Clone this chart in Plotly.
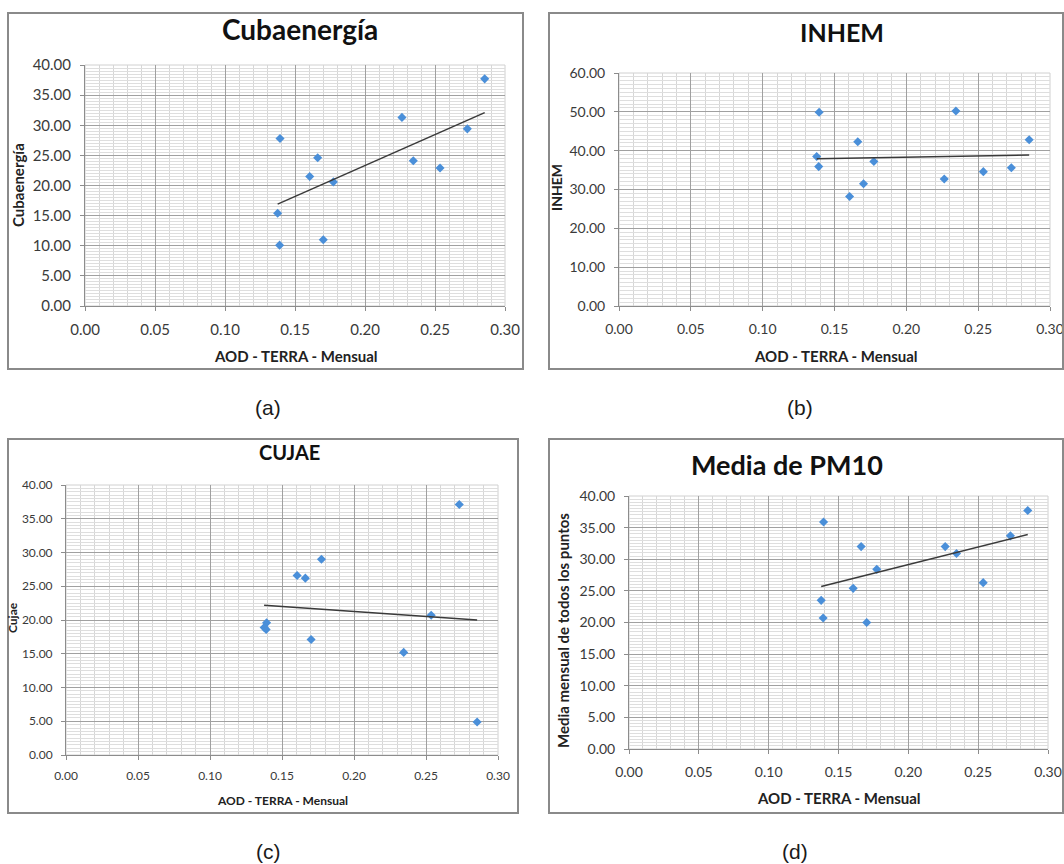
import plotly.graph_objects as go

W, H = 1064, 864

# ---- data ----
aod = [0.1393, 0.1376, 0.1390, 0.1605, 0.1662, 0.1702, 0.1774, 0.2264, 0.2345, 0.2536, 0.2731, 0.2855]
cubaenergia = [27.8, 15.4, 10.1, 21.5, 24.6, 11.0, 20.6, 31.3, 24.1, 22.9, 29.4, 37.7]
inhem = [49.9, 38.5, 35.9, 28.2, 42.3, 31.5, 37.2, 32.7, 50.2, 34.6, 35.6, 42.8]
cujae = [19.6, 18.9, 18.6, 26.6, 26.2, 17.1, 29.0, None, 15.2, 20.7, 37.1, 4.9]
media_pm10 = [35.9, 23.5, 20.7, 25.4, 32.0, 20.0, 28.4, 32.0, 30.9, 26.3, 33.7, 37.7]

trend_x = [0.1376, 0.2855]
trend_cubaenergia = [16.9, 32.1]
trend_inhem = [37.9, 38.9]
trend_cujae = [22.2, 20.0]
trend_media = [25.7, 33.9]

x_ticks = [0.00, 0.05, 0.10, 0.15, 0.20, 0.25, 0.30]
titles = ["Cubaenergía", "INHEM", "CUJAE", "Media de PM10"]
y_titles = ["Cubaenergía", "INHEM", "Cujae", "Media mensual de todos los puntos"]
x_title = "AOD - TERRA - Mensual"
captions = ["(a)", "(b)", "(c)", "(d)"]

# ---- layout helpers (pixel geometry) ----
def px(x):
    return x / W

def py(y):
    return 1 - y / H

panels = [
    dict(y=cubaenergia, ty=trend_cubaenergia, ymax=40, ydt=5, yminor=0.5,
         plot=(85, 505, 65, 306), box=(8, 523, 13, 369),
         title=(300, 29, 28), ytitle=(18, 185, 15), xtitle=(296, 356, 15),
         caption=(268, 407), tickfont=15, family="Lato"),
    dict(y=inhem, ty=trend_inhem, ymax=60, ydt=10, yminor=1,
         plot=(619, 1050, 73, 306), box=(549, 1063, 13, 369),
         title=(842, 32, 25), ytitle=(557, 188, 14), xtitle=(836, 356, 15),
         caption=(800, 407), tickfont=14, family="Lato"),
    dict(y=cujae, ty=trend_cujae, ymax=40, ydt=5, yminor=0.5,
         plot=(66, 498, 485, 755), box=(8, 518, 439, 813),
         title=(289, 452, 20), ytitle=(12, 618, 12), xtitle=(282, 800, 12),
         caption=(268, 851), tickfont=12, family="Liberation Sans Narrow, Lato"),
    dict(y=media_pm10, ty=trend_media, ymax=40, ydt=5, yminor=0.5,
         plot=(629, 1048, 496, 749), box=(549, 1063, 439, 813),
         title=(787, 464, 27), ytitle=(563, 631, 15), xtitle=(839, 798, 15),
         caption=(795, 851), tickfont=14, family="Lato"),
]

fig = go.Figure()
annotations = []
shapes = []
layout_axes = {}

for i, p in enumerate(panels):
    n = i + 1
    xa = "x" if n == 1 else f"x{n}"
    ya = "y" if n == 1 else f"y{n}"
    x0, x1, y0, y1 = p["plot"]

    fig.add_trace(go.Scatter(
        x=aod, y=p["y"], mode="markers", xaxis=xa, yaxis=ya,
        marker=dict(symbol="diamond", size=7, color="#4a8fd9"),
        showlegend=False, hoverinfo="x+y"))
    fig.add_trace(go.Scatter(
        x=trend_x, y=p["ty"], mode="lines", xaxis=xa, yaxis=ya,
        line=dict(color="#3a3a3a", width=1.5),
        showlegend=False, hoverinfo="skip"))

    tick_font = dict(family=p["family"], size=p["tickfont"], color="#3a3a3a")
    layout_axes[f"xaxis{'' if n == 1 else n}"] = dict(
        domain=[px(x0), px(x1)], anchor=ya, range=[0, 0.30], automargin=False,
        tickvals=x_ticks, tickformat=".2f", tickfont=tick_font, ticklabelstandoff=6,
        showgrid=True, gridcolor="#a0a0a0", gridwidth=1,
        minor=dict(dtick=0.01, showgrid=True, gridcolor="#d6d6d6", gridwidth=1),
        showline=True, linecolor="#8c8c8c", linewidth=1, mirror=False,
        ticks="outside", ticklen=4, tickcolor="#8c8c8c",
        zeroline=False, fixedrange=True)
    layout_axes[f"yaxis{'' if n == 1 else n}"] = dict(
        domain=[py(y1), py(y0)], anchor=xa, range=[0, p["ymax"]], automargin=False,
        dtick=p["ydt"], tick0=0, tickformat=".2f", tickfont=tick_font, ticklabelstandoff=6,
        showgrid=True, gridcolor="#a0a0a0", gridwidth=1,
        minor=dict(dtick=p["yminor"], showgrid=True, gridcolor="#dedede", gridwidth=1),
        showline=True, linecolor="#8c8c8c", linewidth=1, mirror=False,
        ticks="outside", ticklen=4, tickcolor="#8c8c8c",
        zeroline=False, fixedrange=True)

    # light frame of plot area
    shapes.append(dict(type="rect", xref="paper", yref="paper",
                       x0=px(x0), x1=px(x1), y0=py(y1), y1=py(y0),
                       line=dict(color="#d0d0d0", width=1), layer="below"))
    # panel border
    bx0, bx1, by0, by1 = p["box"]
    shapes.append(dict(type="rect", xref="paper", yref="paper",
                       x0=px(bx0), x1=px(bx1), y0=py(by1), y1=py(by0),
                       line=dict(color="#8a8a8a", width=2)))

    tx, ty, ts = p["title"]
    annotations.append(dict(text=f"<b>{titles[i]}</b>", x=px(tx), y=py(ty),
                            xref="paper", yref="paper", showarrow=False,
                            xanchor="center", yanchor="middle",
                            font=dict(family="Lato", size=ts, color="#111111")))
    yx, yy, ys = p["ytitle"]
    annotations.append(dict(text=f"<b>{y_titles[i]}</b>", x=px(yx), y=py(yy),
                            xref="paper", yref="paper", showarrow=False,
                            textangle=-90, xanchor="center", yanchor="middle",
                            font=dict(family="Lato", size=ys, color="#222222")))
    xx, xy, xs = p["xtitle"]
    annotations.append(dict(text=f"<b>{x_title}</b>", x=px(xx), y=py(xy),
                            xref="paper", yref="paper", showarrow=False,
                            xanchor="center", yanchor="middle",
                            font=dict(family="Lato", size=xs, color="#222222")))
    cx, cy = p["caption"]
    annotations.append(dict(text=captions[i], x=px(cx), y=py(cy),
                            xref="paper", yref="paper", showarrow=False,
                            xanchor="center", yanchor="middle",
                            font=dict(family="Liberation Sans Narrow, Liberation Sans",
                                      size=21, color="#1a1a1a")))

fig.update_layout(
    width=W, height=H, margin=dict(l=0, r=0, t=0, b=0),
    paper_bgcolor="white", plot_bgcolor="white",
    annotations=annotations, shapes=shapes, showlegend=False,
    **layout_axes)

fig.write_html("out.html", config={"displayModeBar": False})
